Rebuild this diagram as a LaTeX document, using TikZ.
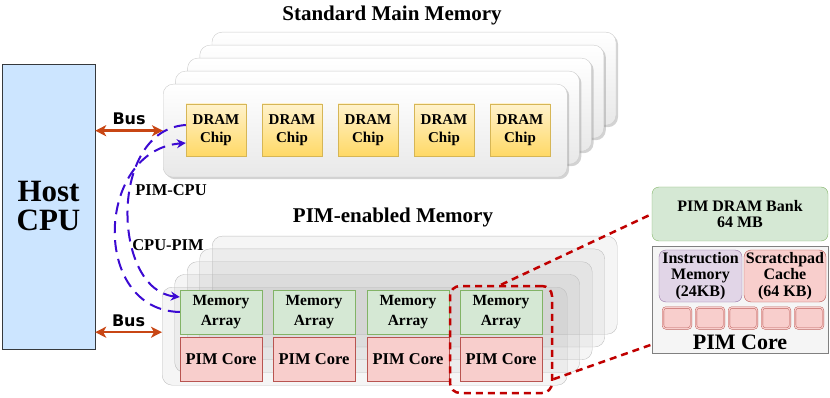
\documentclass[tikz,border=0pt]{standalone}
\usepackage{fontspec}
\setmainfont{Liberation Serif}
\newfontfamily\busfont{DejaVu Sans}
\usepackage{tikz}
\usetikzlibrary{arrows.meta,positioning,shadows}

\definecolor{cpufill}{HTML}{CCE5FF}
\definecolor{cpuedge}{HTML}{36393D}
\definecolor{dramtop}{HTML}{FFF2CC}
\definecolor{drambot}{HTML}{FFD966}
\definecolor{dramedge}{HTML}{D6B656}
\definecolor{memfill}{HTML}{D5E8D4}
\definecolor{memedge}{HTML}{82B366}
\definecolor{corefill}{HTML}{F8CECC}
\definecolor{coreedge}{HTML}{B85450}
\definecolor{imemfill}{HTML}{E1D5E7}
\definecolor{imemedge}{HTML}{9673A6}
\definecolor{busred}{RGB}{200,70,20}
\definecolor{pimblue}{RGB}{60,10,210}
\definecolor{zoomred}{RGB}{192,0,0}

\begin{document}
\begin{tikzpicture}[
        x=1pt, y=-1pt,
        font=\bfseries,
        title/.style={font=\fontsize{21}{23}\selectfont\bfseries},
        cpu/.style={
            draw=cpuedge,
            fill=cpufill,
            align=center,
            minimum width=93pt,
            minimum height=285pt,
            font=\fontsize{31}{29}\selectfont\bfseries
        },
        stdboard/.style={
            draw=gray!40,
            rounded corners=10pt,
            top color=white,
            bottom color=gray!18,
            inner sep=0pt,
            minimum width=404pt,
            minimum height=93pt,
            anchor=north west,
            drop shadow={shadow xshift=2pt, shadow yshift=-2pt, opacity=0.35}
        },
        pimboard/.style={
            draw=gray!50,
            rounded corners=10pt,
            fill=gray,
            fill opacity=0.08,
            inner sep=0pt,
            minimum width=405pt,
            minimum height=98pt,
            anchor=north west
        },
        chip/.style={
            draw=dramedge,
            top color=dramtop,
            bottom color=drambot,
            align=center,
            inner sep=0pt,
            minimum width=60pt,
            minimum height=52pt,
            font=\fontsize{15}{18}\selectfont\bfseries
        },
        memarray/.style={
            draw=memedge,
            fill=memfill,
            align=center,
            inner sep=0pt,
            minimum width=82pt,
            minimum height=44pt,
            font=\fontsize{15.5}{20}\selectfont\bfseries
        },
        pimcore/.style={
            draw=coreedge,
            fill=corefill,
            align=center,
            inner sep=0pt,
            minimum width=82pt,
            minimum height=44pt,
            font=\fontsize{16.5}{20}\selectfont\bfseries
        },
        detail/.style={
            draw,
            rounded corners=7pt,
            align=center,
            inner sep=0pt,
            font=\fontsize{16}{16.5}\selectfont\bfseries
        },
        cell/.style={
            draw=coreedge,
            double=corefill,
            double distance=1.2pt,
            fill=corefill,
            rounded corners=3pt,
            inner sep=0pt,
            minimum width=28pt,
            minimum height=21pt
        },
        bus/.style={{Stealth[length=11pt,width=11pt,inset=3pt]}-{Stealth[length=11pt,width=11pt,inset=3pt]}, draw=busred, line width=2.5pt},
        buslabel/.style={font=\busfont\fontsize{16}{16}\selectfont\bfseries},
        pimarrow/.style={draw=pimblue, line width=2pt, dash pattern=on 12pt off 7pt, -{Stealth[length=9pt,width=9pt]}},
        flowlabel/.style={font=\fontsize{16.5}{16.5}\selectfont\bfseries},
        zoomline/.style={draw=zoomred, line width=2.5pt, dash pattern=on 7pt off 5pt}
    ]
        \useasboundingbox (0,0) rectangle (830,398);

        % host side
        \node[cpu] (host) at (48.5,206.5) {Host\\CPU};

        % standard main memory
        \node[title] (stdtitle) at (392,15) {Standard Main Memory};
        \foreach \i in {4,3,2,1,0} {
            \node[stdboard] (std\i) at ({163+12.2*\i},{84-13*\i}) {};
        }
        \foreach \n/\x in {1/216,2/292,3/368,4/444,5/520} {
            \node[chip] (chip\n) at (\x,130) {DRAM\\Chip};
        }

        % PIM-enabled memory
        \node[title] (pimtitle) at (393,217) {PIM-enabled Memory};
        \foreach \i in {4,3,2,1,0} {
            \node[pimboard] (pim\i) at ({162+12.5*\i},{287-12.75*\i}) {};
        }
        \foreach \n/\x in {1/221,2/314,3/408,4/501} {
            \node[memarray] (mem\n) at (\x,312) {Memory\\Array};
            \node[pimcore, below=3pt of mem\n] (core\n) {PIM Core};
        }

        % buses
        \draw[bus] (std0.west -| host.east) -- (std0.west) node[buslabel, midway, above=1pt] (bus1) {Bus};
        \draw[bus] ([yshift=4pt]pim0.west -| host.east) -- ([yshift=4pt]pim0.west) node[buslabel, midway, above=1pt] (bus2) {Bus};

        % transfers between DRAM and PIM
        \draw[pimarrow] ([yshift=5pt]chip1.west) .. controls (108,130) and (112,290) .. ([yshift=15pt]mem1.west);
        \draw[pimarrow] (mem1.west) .. controls (90,310) and (96,150) .. ([yshift=-13pt]chip1.west);
        \node[flowlabel] (pimcpu) at (171,190) {PIM-CPU};
        \node[flowlabel] (cpupim) at (168,245) {CPU-PIM};

        % zoomed bank
        \node[draw=zoomred, line width=2.5pt, dash pattern=on 7pt off 5pt, rounded corners=10pt,
              minimum width=102pt, minimum height=107pt] (zoombox) at (501,339.5) {};
        \node[detail, draw=memedge, fill=memfill, minimum width=176pt, minimum height=54pt] (bank) at (740,214) {PIM DRAM Bank\\64 MB};
        \node[draw=gray, fill=gray!8, minimum width=176pt, minimum height=107pt] (corebox) at (740,299.5) {};
        \node[detail, draw=imemedge, fill=imemfill, minimum width=83pt, minimum height=52pt] (imem) at (700.5,276) {Instruction\\Memory\\(24KB)};
        \node[detail, draw=coreedge, fill=corefill, minimum width=82pt, minimum height=52pt] (spad) at (785,276) {Scratchpad\\Cache\\(64 KB)};
        \foreach \n/\x in {1/677,2/710,3/743,4/776,5/809} {
            \node[cell] (cell\n) at (\x,318) {};
        }
        \node[font=\fontsize{22}{22}\selectfont\bfseries] (corelabel) at (740,342) {PIM Core};

        \draw[zoomline] (zoombox.north) -- (bank.west);
        \draw[zoomline] ([yshift=15pt]zoombox.south east) -- ([yshift=-45pt]corebox.west);
    \end{tikzpicture}
\end{document}
